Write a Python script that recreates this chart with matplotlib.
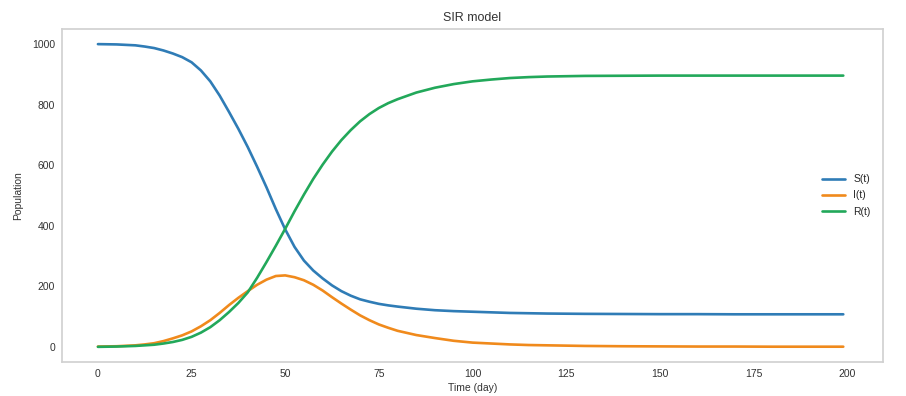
import matplotlib
matplotlib.use('Agg')
import matplotlib.pyplot as plt

# values
days = [0, 5, 10, 12.5, 15, 17.5, 20, 22.5, 25, 27.5, 30, 32.5, 35, 37.5, 40, 42.5,
        45, 47.5, 50, 52.5, 55, 57.5, 60, 62.5, 65, 67.5, 70, 72.5, 75, 77.5, 80, 85,
        90, 95, 100, 105, 110, 115, 120, 125, 130, 140, 150, 160, 170, 180, 190, 199]

susceptible = [1000, 999, 996, 992, 987, 979, 969, 957, 940, 913, 877, 830, 776, 720,
               660, 595, 527, 455, 388, 330, 285, 252, 226, 203, 184, 169, 157, 149,
               142, 137, 133, 126, 121, 118, 116, 114, 112, 111, 110, 109.5, 109,
               108.5, 108, 108, 107.5, 107.5, 107.5, 107.5]

infected = [1, 2, 5, 8, 12, 19, 28, 38, 51, 68, 88, 112, 138, 162, 184, 205, 222, 234,
            236, 230, 220, 205, 186, 164, 143, 123, 104, 88, 74, 63, 53, 39, 29, 20,
            14, 11, 8, 6, 5, 4, 3, 2, 1.5, 1, 1, 0.5, 0.5, 0.5]

recovered = [0, 1, 3, 5, 7, 11, 16, 23, 33, 47, 65, 88, 115, 145, 180, 228, 280, 334,
             390, 448, 503, 555, 602, 645, 683, 716, 745, 769, 789, 805, 818, 840, 856,
             868, 877, 883, 888, 891, 893, 894, 895, 895.5, 896, 896, 896, 896, 896,
             896]

series_labels = ['S(t)', 'I(t)', 'R(t)']

plt.style.use('seaborn-v0_8-white')
plt.rcParams['font.family'] = ['Liberation Sans', 'DejaVu Sans']

fig = plt.figure(figsize=(9.06, 3.96), dpi=100)
ax = fig.add_axes([0.0684, 0.0859, 0.9062, 0.8409])

ax.plot(days, susceptible, color='#2f7cb6', lw=1.9, label=series_labels[0])
ax.plot(days, infected, color='#f08a1c', lw=1.9, label=series_labels[1])
ax.plot(days, recovered, color='#22a85a', lw=1.9, label=series_labels[2])

ax.set_xticks([0, 25, 50, 75, 100, 125, 150, 175, 200])
ax.set_yticks([0, 200, 400, 600, 800, 1000])
ax.set_xlim(-9.6, 209.6)
ax.set_ylim(-50, 1050)

ax.tick_params(labelsize=7.5, colors='#333333', length=0, pad=5)
for sp in ax.spines.values():
    sp.set_color('#d0d0d0')
    sp.set_linewidth(1.2)

ax.set_title('SIR model', fontsize=9, color='#333333', pad=6)
ax.set_xlabel('Time (day)', fontsize=7.5, color='#333333', labelpad=3)
ax.set_ylabel('Population', fontsize=7.5, color='#333333', labelpad=6)

ax.legend(loc='center right', frameon=False, fontsize=7.5, handlelength=2.2,
          labelspacing=0.6, borderaxespad=0.8)

fig.savefig('out.png', dpi=100)
